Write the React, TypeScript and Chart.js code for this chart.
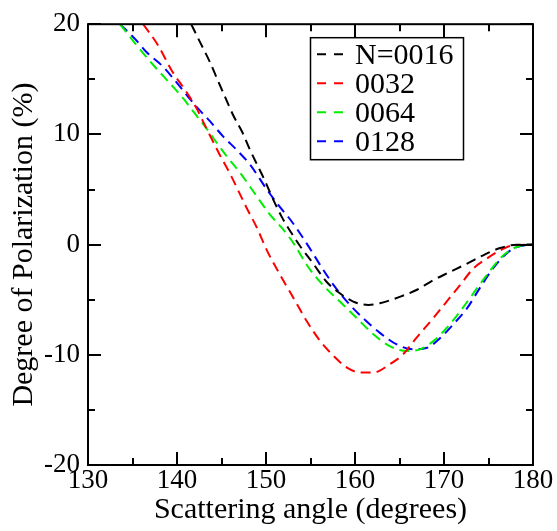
import React, { useEffect, useRef } from "react";
import { Chart, registerables } from "chart.js";

Chart.register(...registerables);

const FONT = "serif";

const seriesLabels = ["N=0016", "0032", "0064", "0128"];
const seriesColors = ["#000000", "#ff0000", "#00ee00", "#0000ff"];

const n16Angle = [141.6, 142.6, 143.7, 144.5, 145.4, 146.3, 147.3, 148.2, 149.0, 149.9, 150.8, 151.8, 152.9, 153.8, 155.3, 156.8, 158.3, 159.8, 161.5, 162.8, 165.1, 166.9, 168.8, 170.7, 172.6, 174.4, 176.3, 178.2, 180];
const n16Pol = [20, 18.35, 16.56, 15.06, 13.4, 11.76, 10.26, 8.6, 7.26, 5.76, 4.1, 2.47, 1.0, -0.1, -1.72, -3.37, -4.42, -5.17, -5.47, -5.32, -4.72, -4.12, -3.22, -2.47, -1.72, -0.97, -0.31, -0.01, 0];

const n32Angle = [136.2, 137.9, 139.4, 141.1, 142.2, 143.3, 144.8, 146.0, 147.8, 148.95, 150.1, 151.6, 153.1, 154.6, 156.1, 157.6, 159.1, 160.6, 162.1, 163.9, 165.4, 166.9, 168.8, 170.3, 171.8, 173.3, 174.8, 176.3, 177.8, 180];
const n32Pol = [20, 18.05, 15.8, 13.8, 12.36, 10.56, 8.16, 6.36, 3.37, 1.57, -0.52, -2.77, -4.87, -6.97, -8.76, -10.1, -11.16, -11.6, -11.6, -10.86, -9.96, -8.46, -6.67, -5.17, -3.67, -2.17, -1.27, -0.52, -0.07, 0];

const n64Angle = [133.6, 135.5, 137.7, 139.4, 140.7, 142.0, 143.3, 144.5, 145.6, 147.1, 148.6, 150.4, 151.9, 153.2, 154.6, 156.4, 158.3, 160.2, 162.1, 163.9, 165.8, 167.3, 168.8, 170.3, 171.8, 173.3, 174.8, 176.3, 177.4, 178.5, 180];
const n64Pol = [20, 18.05, 15.96, 14.46, 13.26, 11.9, 10.56, 9.2, 8.0, 6.5, 4.8, 2.77, 1.4, 0.0, -1.87, -3.67, -5.17, -6.67, -8.16, -9.21, -9.66, -9.51, -8.76, -7.57, -6.07, -4.42, -2.77, -1.27, -0.52, -0.13, 0];

const n128Angle = [133.6, 135.3, 136.6, 138.3, 139.6, 141.1, 142.2, 143.7, 145.2, 146.7, 148.2, 150.1, 151.6, 152.7, 154.6, 156.1, 157.6, 159.1, 160.9, 162.8, 164.7, 166.6, 168.1, 169.6, 171.0, 172.6, 174.0, 175.5, 177.0, 178.2, 180];
const n128Pol = [20, 18.65, 17.45, 16.25, 15.06, 13.56, 12.5, 11.2, 9.8, 8.6, 7.26, 5.0, 3.37, 2.3, 0.07, -1.87, -3.67, -5.17, -6.67, -8.01, -9.06, -9.51, -9.36, -8.46, -7.27, -5.77, -3.97, -2.17, -0.82, -0.22, 0];

const angles = [n16Angle, n32Angle, n64Angle, n128Angle];
const pols = [n16Pol, n32Pol, n64Pol, n128Pol];

const xTicks = [130, 140, 150, 160, 170, 180];
const yTicks = [-20, -10, 0, 10, 20];
const xMinor = [135, 145, 155, 165, 175];
const yMinor = [-15, -5, 5, 15];

const framePlugin = {
  id: "framePlugin",
  afterDraw(chart: any) {
    const ctx = chart.ctx;
    const a = chart.chartArea;
    const xs = chart.scales.x;
    const ys = chart.scales.y;
    ctx.save();
    ctx.strokeStyle = "#000";
    ctx.lineWidth = 2;
    ctx.setLineDash([]);
    ctx.strokeRect(a.left, a.top, a.right - a.left, a.bottom - a.top);
    const drawX = (v: number, len: number) => {
      const px = Math.round(xs.getPixelForValue(v));
      ctx.beginPath();
      ctx.moveTo(px, a.bottom);
      ctx.lineTo(px, a.bottom - len);
      ctx.moveTo(px, a.top);
      ctx.lineTo(px, a.top + len);
      ctx.stroke();
    };
    const drawY = (v: number, len: number) => {
      const py = Math.round(ys.getPixelForValue(v));
      ctx.beginPath();
      ctx.moveTo(a.left, py);
      ctx.lineTo(a.left + len, py);
      ctx.moveTo(a.right, py);
      ctx.lineTo(a.right - len, py);
      ctx.stroke();
    };
    xTicks.forEach((v) => drawX(v, 13));
    xMinor.forEach((v) => drawX(v, 7));
    yTicks.forEach((v) => drawY(v, 13));
    yMinor.forEach((v) => drawY(v, 7));

    // legend
    const lx = a.left + 222;
    const ly = a.top + 13;
    ctx.fillStyle = "#fff";
    ctx.fillRect(lx, ly, 153, 122);
    ctx.lineWidth = 1.5;
    ctx.strokeRect(lx + 0.5, ly + 0.5, 153, 122);
    ctx.font = "30px " + FONT;
    ctx.textBaseline = "alphabetic";
    ctx.textAlign = "left";
    seriesLabels.forEach((lab, i) => {
      const base = ly + 27 + i * 29;
      const mid = base - 10;
      ctx.strokeStyle = seriesColors[i];
      ctx.lineWidth = 2;
      ctx.setLineDash([9, 8]);
      ctx.beginPath();
      ctx.moveTo(lx + 7, mid);
      ctx.lineTo(lx + 34, mid);
      ctx.stroke();
      ctx.setLineDash([]);
      ctx.fillStyle = "#000";
      ctx.fillText(lab, lx + 45, base);
    });
    ctx.restore();
  },
};

export default function App() {
  const ref = useRef<HTMLCanvasElement>(null);
  useEffect(() => {
    document.body.style.margin = "0";
    const chart = new Chart(ref.current!, {
      type: "line",
      data: {
        datasets: seriesLabels.map((lab, i) => ({
          label: lab,
          data: angles[i].map((x, j) => ({ x, y: pols[i][j] })),
          borderColor: seriesColors[i],
          borderWidth: 2,
          borderDash: [10, 6],
          pointRadius: 0,
          fill: false,
          cubicInterpolationMode: "monotone" as const,
        })),
      },
      options: {
        responsive: false,
        animation: false,
        layout: { padding: { top: 20, right: 24, left: 0, bottom: 0 } },
        plugins: { legend: { display: false }, tooltip: { enabled: false } },
        scales: {
          x: {
            type: "linear",
            min: 130,
            max: 180,
            grid: { display: false, drawTicks: false },
            border: { display: false },
            afterFit: (s: any) => { s.height = 66; },
            afterBuildTicks: (s: any) => { s.ticks = xTicks.map((v) => ({ value: v })); },
            ticks: { color: "#000", font: { family: FONT, size: 27 }, padding: 0, maxRotation: 0 },
            title: {
              display: true,
              text: "Scattering angle (degrees)",
              color: "#000",
              font: { family: FONT, size: 30, lineHeight: 1 },
              padding: { top: 0, bottom: 6 },
            },
          },
          y: {
            type: "linear",
            min: -20,
            max: 20,
            grid: { display: false, drawTicks: false },
            border: { display: false },
            afterFit: (s: any) => { s.width = 88; },
            afterBuildTicks: (s: any) => { s.ticks = yTicks.map((v) => ({ value: v })); },
            ticks: { color: "#000", font: { family: FONT, size: 27 }, padding: 8 },
            title: {
              display: true,
              text: "Degree of Polarization (%)",
              color: "#000",
              font: { family: FONT, size: 30, lineHeight: 1 },
              padding: { top: 9, bottom: 0 },
            },
          },
        },
      },
      plugins: [framePlugin],
    } as any);
    return () => chart.destroy();
  }, []);
  return <canvas ref={ref} width={557} height={531} />;
}
